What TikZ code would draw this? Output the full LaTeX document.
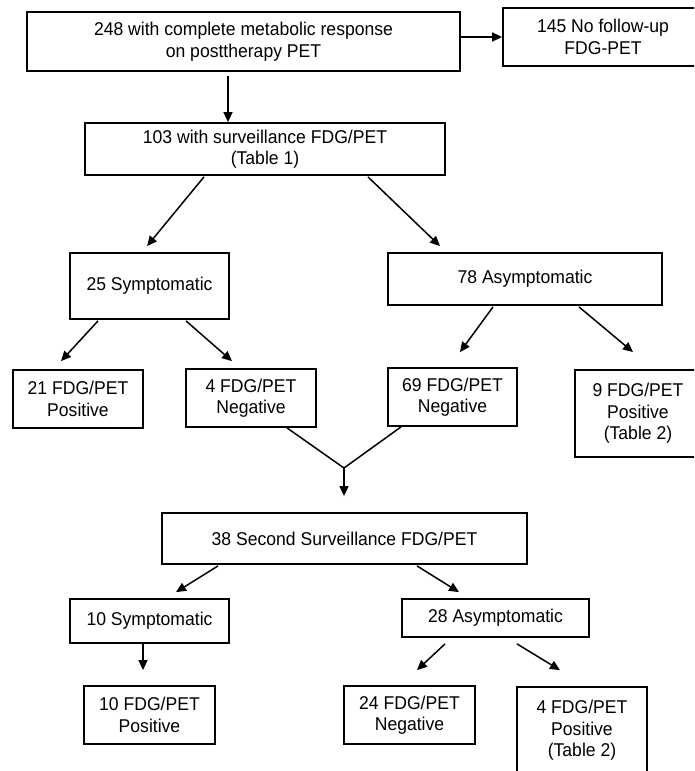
\documentclass[tikz,border=0pt]{standalone}
\usepackage{fontspec}
\setmainfont{Liberation Sans}
\newfontfamily\labfont[FakeStretch=0.95]{Liberation Sans}
\usetikzlibrary{arrows.meta,calc}
\begin{document}
\begin{tikzpicture}[x=1pt,y=-1pt,
  box/.style={draw=black, line width=1.8pt, inner sep=0pt, align=center,
    font=\labfont\fontsize{18.5}{21.5}\selectfont},
  arr/.style={line width=1.5pt, -{Triangle[length=10pt,width=9pt]}},
  ln/.style={line width=1.5pt}]
\useasboundingbox (0,0) rectangle (694,771);
\clip (0,0) rectangle (694,771);
% boxes
\node[box, minimum width=433pt, minimum height=59pt] (b1) at (243.5,41.5) {248 with complete metabolic response\\on posttherapy PET};
\node[box, minimum width=200pt, minimum height=58pt] (b2) at (603,37) {145 No follow-up\\FDG-PET};
\node[box, minimum width=360pt, minimum height=52pt] (b3) at (265,149) {103 with surveillance FDG/PET\\(Table 1)};
\node[box, minimum width=159pt, minimum height=66pt] (b4) at (149.5,286) {25 Symptomatic};
\node[box, minimum width=274pt, minimum height=52pt] (b5) at (525,279) {78 Asymptomatic};
\node[box, minimum width=130pt, minimum height=58pt] (b6) at (78,399) {21 FDG/PET\\Positive};
\node[box, minimum width=130pt, minimum height=58pt] (b7) at (251,398) {4 FDG/PET\\Negative};
\node[box, minimum width=129pt, minimum height=58pt] (b8) at (452.5,397) {69 FDG/PET\\Negative};
\node[box, minimum width=126pt, minimum height=87pt] (b9) at (638,413.5) {9 FDG/PET\\Positive\\(Table 2)};
\node[box, minimum width=365pt, minimum height=51pt] (b10) at (344.5,538.5) {38 Second Surveillance FDG/PET};
\node[box, minimum width=159pt, minimum height=44pt] (b11) at (149.5,621) {10 Symptomatic};
\node[box, minimum width=187pt, minimum height=38pt] (b12) at (495.5,618) {28 Asymptomatic};
\node[box, minimum width=131pt, minimum height=58pt] (b13) at (149.5,715) {10 FDG/PET\\Positive};
\node[box, minimum width=131pt, minimum height=58pt] (b14) at (409.5,715) {24 FDG/PET\\Negative};
\node[box, minimum width=130pt, minimum height=87pt] (b15) at (582,730.5) {4 FDG/PET\\Positive\\(Table 2)};
% connectors
\draw[arr] (b2.west -| b1.east) -- (b2.west);
\draw[arr] ($(b1.south)+(-15.5,4)$) -- ($(b3.north)+(-37,0)$);
\draw[arr] ($(b3.south)+(-61,1)$) -- ($(b4.north)+(-2.5,-6)$);
\draw[arr] ($(b3.south)+(103,1)$) -- ($(b5.north)+(-85,-6)$);
\draw[arr] ($(b4.south)+(-51.5,1)$) -- ($(b6.north)+(-17,-8)$);
\draw[arr] ($(b4.south)+(36.5,1)$) -- ($(b7.north)+(-19,-7)$);
\draw[arr] ($(b5.south)+(-32,1)$) -- ($(b8.north)+(7.5,-15)$);
\draw[arr] ($(b5.south)+(54,1)$) -- ($(b9.north)+(-5,-17)$);
\coordinate (m) at (344,468);
\draw[ln] ($(b7.south)+(36,0)$) -- (m) -- ($(b8.south)+(-51.5,0)$);
\draw[arr] (m) -- ($(b10.north)+(-0.5,-16)$);
\draw[arr] ($(b10.south)+(-126.5,1)$) -- ($(b11.north)+(26.5,-6)$);
\draw[arr] ($(b10.south)+(72.5,1)$) -- ($(b12.north)+(-36.5,-6)$);
\draw[arr] ($(b11.south)+(-6.5,0)$) -- ($(b13.north)+(-6.5,-15)$);
\draw[arr] ($(b12.south)+(-50.5,6)$) -- ($(b14.north)+(7.5,-15)$);
\draw[arr] ($(b12.south)+(21.5,6)$) -- ($(b15.north)+(-22,-16)$);
\end{tikzpicture}
\end{document}
